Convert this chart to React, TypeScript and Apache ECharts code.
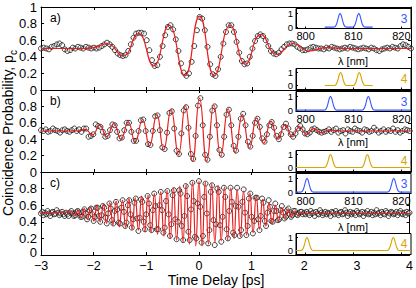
import { useEffect, useRef } from 'react';
import * as echarts from 'echarts';

const FONT = '"Liberation Sans", Arial, Helvetica, sans-serif';

// ---- tick labels ----
const timeTicks = [-3, -2, -1, 0, 1, 2, 3, 4];
const probLabelsTop = [0, 0.2, 0.4, 0.6, 0.8, 1];
const probLabelsLower = [0, 0.2, 0.4, 0.6, 0.8];
const lambdaTicks = [800, 810, 820];
const insetYTicks = [0, 1];
const panelLetters = ['a)', 'b)', 'c)'];
const detectorLabels = ['3', '4'];

// ---- measured coincidence probability (x100), uniform delay scans ----
const scanStartA = -3;
const scanStepA = 0.05;
const scanA = [
  50, 51, 50, 49, 52, 53, 55, 56, 54, 49, 47, 48, 51, 50, 52, 51, 50, 52, 51, 50, 51,
  50, 51, 53, 55, 57, 55, 52, 48, 44, 42, 41, 42,
  47, 55, 63, 68, 69, 69, 68, 60, 48, 36, 29, 30,
  40, 53, 66, 76, 78, 73, 61, 47, 32, 21, 17, 20,
  34, 53, 72, 88, 86, 72, 52, 31, 19, 17, 25, 40,
  56, 70, 78, 78, 70, 58, 45, 35, 31, 32, 40, 50,
  59, 65, 67, 65, 60, 53, 47, 44, 43, 45, 49, 52,
  55, 56, 56, 55, 52, 50, 48, 48, 49, 51, 52, 51,
  50, 50, 49, 51, 50, 52, 51, 50, 49, 50, 51, 50,
  52, 51, 50, 49, 50, 51, 50, 49, 51, 50, 48, 47,
  49, 50, 51, 50, 52, 51, 50, 53, 55, 54, 52, 50,
];

const scanStartB = -3;
const scanStepB = 0.045;
const scanB = [
  51, 50, 52, 49, 50, 53, 51, 50, 48, 51, 52, 50, 49, 51, 53, 50, 52, 49,
  53, 53, 43, 44, 46, 58,
  56, 55, 49, 43, 44, 51,
  58, 57, 49, 41, 42, 51,
  60, 60, 49, 38, 38, 50,
  63, 64, 50, 34, 33, 50,
  68, 69, 51, 30, 28, 48,
  72, 74, 53, 26, 22, 47,
  75, 79, 54, 22, 16, 44,
  81, 90, 57, 21, 15, 43,
  75, 80, 57, 27, 21, 43,
  70, 76, 57, 32, 26, 43,
  65, 71, 57, 37, 31, 44,
  60, 65, 55, 41, 37, 46,
  57, 61, 54, 44, 40, 46,
  55, 59, 53, 46, 43, 47,
  53, 56, 52, 47, 46, 48,
  52, 53, 51, 49, 48, 49,
  50, 52, 49, 51, 53, 48, 50, 51, 47, 52, 50, 49, 53, 51, 50, 48, 52, 51,
  49, 50, 54, 51, 48, 50, 52, 49, 51, 50, 53, 49, 51, 48, 50, 52, 51, 50,
];

const scanStartC = -3;
const scanStepC = 0.025;
const scanC = [
  50, 52, 48, 51, 49, 53, 50, 47, 51, 52, 49, 50, 54, 51, 48, 50, 52, 49, 47, 51,
  49, 47, 51, 53, 50, 47, 48, 52, 53, 51, 46, 46, 52, 55, 50, 43, 46, 54, 56, 49,
  41, 46, 57, 57, 47, 40, 48, 59, 57, 45, 38, 50, 62, 56, 42, 38, 53, 64, 55, 39,
  38, 57, 66, 52, 35, 39, 60, 66, 49, 33, 43, 63, 68, 44, 29, 45, 67, 64, 40, 31,
  49, 71, 62, 36, 30, 54, 74, 59, 31, 31, 60, 76, 54, 27, 33, 65, 77, 49, 23, 37,
  72, 78, 43, 19, 40, 78, 74, 35, 18, 47, 83, 71, 28, 18, 55, 87, 65, 22, 20, 62,
  89, 58, 15, 23, 70, 86, 50, 14, 30, 76, 84, 42, 12, 37, 80, 76, 36, 16, 46, 81,
  70, 31, 20, 53, 81, 64, 27, 24, 59, 81, 58, 23, 30, 64, 79, 51, 24, 35, 68, 74,
  46, 26, 41, 69, 69, 43, 30, 47, 68, 63, 41, 35, 51, 66, 58, 41, 40, 53, 62, 53,
  42, 43, 54, 59, 51, 44, 46, 54, 56, 49, 46, 48, 53, 53, 49, 48, 50, 52, 52, 49,
  51, 49, 52, 50, 48, 53, 50, 51, 47, 52, 50, 49, 54, 51, 48, 50, 52, 49, 51, 50,
  47, 52, 51, 49, 53, 50, 48, 51, 52, 49, 50, 54, 51, 47, 50, 52, 49, 51, 50, 48,
  53, 51, 49, 50, 52, 47, 51, 50, 53, 49, 50, 52, 48, 51, 49, 54, 50, 51, 48, 52,
  50, 49, 53, 51, 47, 50, 52, 51, 49, 50, 52, 48, 51, 53, 50, 49, 51, 48, 52, 50,
  51,
];

// ---- fitted curves: turning points (x100) ----
const fitTimesA = [-3, -2.2, -2.0, -1.75, -1.45, -1.16, -0.87, -0.58, -0.28, 0, 0.28, 0.58, 0.87, 1.16, 1.46, 1.77, 2.07, 2.4, 2.8, 4];
const fitValuesA = [50, 50, 51, 56, 41, 68, 29, 78, 17, 89, 17, 78, 31, 67, 43, 56, 47, 51, 50, 50];

const fitTimesB = [-3, -2.3, -2.16, -2.03, -1.89, -1.76, -1.62, -1.49, -1.35, -1.22, -1.08, -0.95, -0.81, -0.68, -0.54, -0.4, -0.27, -0.135, 0,
  0.135, 0.27, 0.4, 0.54, 0.675, 0.81, 0.945, 1.08, 1.215, 1.35, 1.485, 1.62, 1.755, 1.89, 2.03, 2.16, 2.3, 2.45, 2.6, 4];
const fitValuesB = [50, 50, 52, 45, 57, 43, 59, 40, 61, 37, 64, 32, 70, 27, 76, 21, 81, 13, 90,
  13, 82, 19, 77, 24, 70, 29, 66, 35, 62, 40, 58, 43, 55, 46, 53, 48, 51, 50, 50];

const fitStartC = -2.42;
const fitStepC = 0.0605;
const fitValuesC = [
  52, 47, 54, 45, 56, 43, 58, 41, 59, 40, 61, 38, 63, 36, 65, 34,
  66, 33, 68, 31, 69, 30, 71, 28, 72, 27, 74, 25, 76, 23, 78, 20,
  81, 18, 83, 16, 85, 13, 88, 11, 89,
  11, 88, 13, 86, 15, 84, 17, 82, 18, 81, 20, 79, 22, 77, 24, 75,
  27, 71, 31, 67, 35, 63, 38, 60, 41, 57, 44, 55, 46, 53, 48, 51, 50,
];
const fitEdgeTimesC = [-3, 4];
const fitEdgeValuesC = [50, 50];

// ---- filter transmission spectra ----
const lineShape = [0, 0.01, 0.06, 0.21, 0.5, 0.84, 1, 0.84, 0.5, 0.21, 0.06, 0.01, 0];
const lineShapeStep = 0.25;
const spectrumRanges = [[804, 814], [798, 822], [798, 822]];
const peaks3 = [[807.2, 811.1], [805.2, 813.1], [800.3, 818.4]];
const peaks4 = [[807.3, 811.2], [805.2, 812.9], [800.3, 818.3]];

const BLUE = '#3657ff';
const GOLD = '#d9a300';
const RED = '#ea1d1d';

function scanPairs(start: number, step: number, vals: number[]) {
  return vals.map((v, i) => [Math.round((start + i * step) * 10000) / 10000, v / 100]);
}
function fitPairs(times: number[], vals: number[]) {
  return times.map((t, i) => [t, vals[i] / 100]);
}
function buildSpectrum(range: number[], peaks: number[]) {
  const pts: number[][] = [[range[0], 0]];
  const half = (lineShape.length - 1) / 2;
  peaks.forEach((c) => {
    lineShape.forEach((v, j) => pts.push([Math.round((c + (j - half) * lineShapeStep) * 1000) / 1000, v]));
  });
  pts.push([range[1], 0]);
  return pts;
}

function buildOption() {
  const PL = 41;
  const PW = 370;
  const panelTops = [7, 90, 172];
  const panelHeights = [83, 82, 83];
  const IL = 296;
  const IW = 115;
  const lambdaLabelY = [61, 142, 227];

  const scans = [
    scanPairs(scanStartA, scanStepA, scanA),
    scanPairs(scanStartB, scanStepB, scanB),
    scanPairs(scanStartC, scanStepC, scanC),
  ];
  const fitC = [
    [fitEdgeTimesC[0], fitEdgeValuesC[0] / 100],
    ...fitValuesC.map((v, i) => [Math.round((fitStartC + i * fitStepC) * 10000) / 10000, v / 100]),
    [fitEdgeTimesC[1], fitEdgeValuesC[1] / 100],
  ];
  const fits = [fitPairs(fitTimesA, fitValuesA), fitPairs(fitTimesB, fitValuesB), fitC];

  const grid: any[] = [];
  const xAxis: any[] = [];
  const yAxis: any[] = [];
  const series: any[] = [];
  const graphic: any[] = [];

  const black = { color: '#000', width: 1 };

  for (let i = 0; i < 3; i++) {
    grid.push({ left: PL, top: panelTops[i], width: PW, height: panelHeights[i], z: 0 });
  }
  for (let i = 0; i < 3; i++) {
    const top = panelTops[i];
    const bottom = panelTops[i] + panelHeights[i];
    grid.push({ left: IL, top: top + 1.5, width: IW, height: 20, show: true, backgroundColor: '#fff', borderColor: '#000', borderWidth: 1, z: 10 });
    grid.push({ left: IL, top: bottom - 21.5, width: IW, height: 21, show: true, backgroundColor: '#fff', borderColor: '#000', borderWidth: 1, z: 10 });
  }

  // main axes
  for (let i = 0; i < 3; i++) {
    xAxis.push({
      type: 'value', gridIndex: i, min: -3, max: 4, interval: 1, position: 'bottom',
      axisLine: { show: true, onZero: false, lineStyle: black },
      axisTick: { show: true, inside: true, length: 3, lineStyle: black },
      axisLabel: {
        show: i === 2, customValues: timeTicks, color: '#000', fontSize: 12.5, margin: 4, fontFamily: FONT,
        formatter: (v: number) => String(v).replace('-', '\u2212'),
      },
      splitLine: { show: false },
    });
    xAxis.push({
      type: 'value', gridIndex: i, min: -3, max: 4, interval: 1, position: 'top',
      axisLine: { show: true, onZero: false, lineStyle: black },
      axisTick: { show: true, inside: true, length: 3, lineStyle: black },
      axisLabel: { show: false },
      splitLine: { show: false },
    });
    yAxis.push({
      type: 'value', gridIndex: i, min: 0, max: 1, interval: 0.2, position: 'left',
      axisLine: { show: true, onZero: false, lineStyle: black },
      axisTick: { show: true, inside: true, length: 3, lineStyle: black },
      axisLabel: {
        show: true, customValues: i === 0 ? probLabelsTop : probLabelsLower, color: '#000', fontSize: 13, margin: 4, fontFamily: FONT,
        formatter: (v: number) => (i === 2 && v === 0 ? '{z|0}' : String(v)),
        rich: { z: { fontSize: 13, fontFamily: FONT, color: '#000', padding: [0, 0, 6, 0] } },
      },
      splitLine: { show: false },
    });
    yAxis.push({
      type: 'value', gridIndex: i, min: 0, max: 1, interval: 0.2, position: 'right',
      axisLine: { show: true, onZero: false, lineStyle: black },
      axisTick: { show: true, inside: true, length: 3, lineStyle: black },
      axisLabel: { show: false },
      splitLine: { show: false },
    });
  }
  // inset axes
  for (let i = 0; i < 3; i++) {
    for (let j = 0; j < 2; j++) {
      const g = 3 + 2 * i + j;
      xAxis.push({
        type: 'value', gridIndex: g, min: 798, max: 822, position: 'bottom', z: 11,
        axisLine: { show: true, onZero: false, lineStyle: black },
        axisTick: { show: true, inside: true, length: 2, customValues: lambdaTicks, lineStyle: black },
        axisLabel: { show: j === 0, customValues: lambdaTicks, color: '#000', fontSize: 11, margin: 1.5, fontFamily: FONT },
        splitLine: { show: false },
      });
      yAxis.push({
        type: 'value', gridIndex: g, min: j === 0 ? -0.1 : -0.3, max: j === 0 ? 1.35 : 1.3, position: 'left', z: 11,
        axisLine: { show: true, onZero: false, lineStyle: black },
        axisTick: { show: true, inside: true, length: 2, customValues: insetYTicks, lineStyle: black },
        axisLabel: { show: true, customValues: insetYTicks, color: '#000', fontSize: 9.5, margin: 3, fontFamily: FONT },
        splitLine: { show: false },
      });
    }
  }

  // main series
  for (let i = 0; i < 3; i++) {
    series.push({
      type: 'scatter', xAxisIndex: 2 * i, yAxisIndex: 2 * i, data: scans[i],
      symbol: 'circle', symbolSize: 5, silent: true, z: 2,
      itemStyle: { color: 'rgba(255,255,255,0.3)', borderColor: '#111', borderWidth: 1 },
    });
    series.push({
      type: 'line', xAxisIndex: 2 * i, yAxisIndex: 2 * i, data: fits[i],
      smooth: 0.5, showSymbol: false, symbol: 'none', silent: true, z: 3,
      lineStyle: { color: RED, width: 1.2 },
    });
  }
  // inset series
  for (let i = 0; i < 3; i++) {
    const specs = [buildSpectrum(spectrumRanges[i], peaks3[i]), buildSpectrum(spectrumRanges[i], peaks4[i])];
    for (let j = 0; j < 2; j++) {
      const idx = 6 + 2 * i + j;
      series.push({
        type: 'line', xAxisIndex: idx, yAxisIndex: idx, data: specs[j],
        smooth: 0.3, showSymbol: false, symbol: 'none', silent: true, z: 12,
        lineStyle: { color: j === 0 ? BLUE : GOLD, width: 1.1 },
      });
    }
  }

  // texts
  graphic.push({
    type: 'text', x: 8, y: 133, rotation: Math.PI / 2, z: 100,
    style: {
      text: 'Coincidence Probability, {n|p}{s|c}',
      fontFamily: FONT, fontSize: 14, fill: '#000', align: 'center', verticalAlign: 'middle',
      rich: {
        n: { fontFamily: FONT, fontSize: 14, fill: '#000', lineHeight: 20, verticalAlign: 'middle' },
        s: { fontFamily: FONT, fontSize: 10, fill: '#000', lineHeight: 10, verticalAlign: 'bottom' },
      },
    },
  });
  graphic.push({
    type: 'text', x: 216, y: 280, z: 100,
    style: { text: 'Time Delay [ps]', fontFamily: FONT, fontSize: 14, fill: '#000', align: 'center', verticalAlign: 'middle' },
  });
  for (let i = 0; i < 3; i++) {
    const top = panelTops[i];
    const bottom = panelTops[i] + panelHeights[i];
    graphic.push({
      type: 'text', x: 50, y: top + 10.5, z: 100,
      style: { text: panelLetters[i], fontFamily: FONT, fontSize: 12, fill: '#000', align: 'left', verticalAlign: 'middle' },
    });
    graphic.push({
      type: 'text', x: 353, y: lambdaLabelY[i], z: 100,
      style: { text: '\u03bb [nm]', fontFamily: FONT, fontSize: 11, fill: '#000', align: 'center', verticalAlign: 'middle' },
    });
    graphic.push({
      type: 'text', x: 404, y: top + 11.5, z: 100,
      style: { text: detectorLabels[0], fontFamily: FONT, fontSize: 12, fill: BLUE, align: 'center', verticalAlign: 'middle' },
    });
    graphic.push({
      type: 'text', x: 404, y: bottom - 11, z: 100,
      style: { text: detectorLabels[1], fontFamily: FONT, fontSize: 12, fill: GOLD, align: 'center', verticalAlign: 'middle' },
    });
  }

  return {
    animation: false,
    backgroundColor: '#fff',
    textStyle: { fontFamily: FONT },
    grid, xAxis, yAxis, series, graphic,
  };
}

export default function App() {
  const ref = useRef<HTMLDivElement>(null);
  useEffect(() => {
    document.body.style.margin = '0';
    if (!ref.current) return;
    const chart = echarts.init(ref.current, undefined, { renderer: 'svg', width: 416, height: 288 });
    chart.setOption(buildOption() as any);
    return () => chart.dispose();
  }, []);
  return <div ref={ref} style={{ width: 416, height: 288 }} />;
}
